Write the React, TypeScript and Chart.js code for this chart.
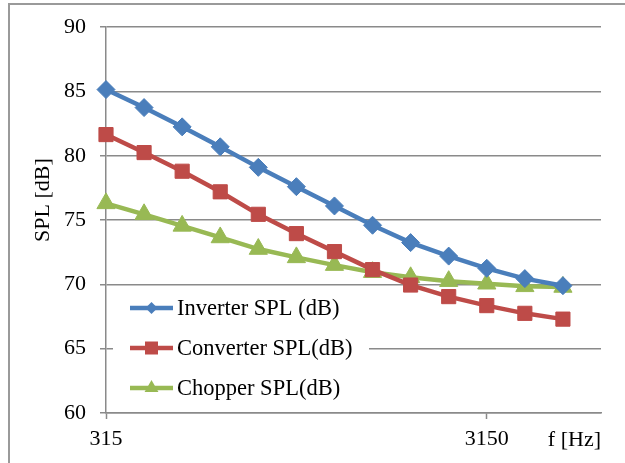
import React, { useEffect, useRef } from 'react';
import { Chart, registerables } from 'chart.js';

Chart.register(...registerables);

const FREQUENCIES = ['315', '400', '500', '630', '800', '1000', '1250', '1600', '2000', '2500', '3150', '4000', '5000'];
const LABELED_TICKS = ['315', '3150'];
const INVERTER = [85.15, 83.75, 82.25, 80.7, 79.1, 77.6, 76.1, 74.6, 73.25, 72.2, 71.25, 70.45, 69.9];
const CONVERTER = [81.65, 80.25, 78.8, 77.2, 75.45, 73.95, 72.55, 71.15, 69.95, 69.05, 68.35, 67.75, 67.3];
const CHOPPER = [76.3, 75.45, 74.55, 73.65, 72.75, 72.1, 71.5, 70.95, 70.55, 70.25, 70.05, 69.85, 69.8];
const SERIES_NAMES = ['Inverter SPL (dB)', 'Converter SPL(dB)', 'Chopper SPL(dB)'];
const Y_TICKS = { min: 60, max: 90, step: 5 };
const Y_TITLE = 'SPL [dB]';
const X_TITLE = 'f [Hz]';

const FONT = '"Liberation Serif", "Times New Roman", serif';
const GRID = '#8a8a8a';
const COLORS = ['#4A7EBB', '#BE4B48', '#98B954'];
const STYLES = ['rectRot', 'rect', 'triangle'];

function drawMarker(ctx: CanvasRenderingContext2D, style: string, x: number, y: number, r: number) {
  ctx.beginPath();
  if (style === 'rectRot') {
    ctx.moveTo(x, y - r);
    ctx.lineTo(x + r, y);
    ctx.lineTo(x, y + r);
    ctx.lineTo(x - r, y);
  } else if (style === 'rect') {
    ctx.rect(x - r, y - r, 2 * r, 2 * r);
  } else {
    ctx.moveTo(x, y - r);
    ctx.lineTo(x + r * 0.866, y + r * 0.5);
    ctx.lineTo(x - r * 0.866, y + r * 0.5);
  }
  ctx.closePath();
  ctx.fill();
}

const framePlugin = {
  id: 'frame',
  beforeDraw(chart: any) {
    const ctx = chart.ctx;
    ctx.save();
    ctx.fillStyle = '#ffffff';
    ctx.fillRect(0, 0, chart.width, chart.height);
    ctx.strokeStyle = '#9a9a9a';
    ctx.lineWidth = 2;
    ctx.beginPath();
    ctx.moveTo(chart.width, 4);
    ctx.lineTo(9, 4);
    ctx.lineTo(9, chart.height);
    ctx.stroke();
    ctx.restore();
  },
};

const annotationsPlugin = {
  id: 'annotations',
  afterDraw(chart: any) {
    const ctx = chart.ctx;
    const area = chart.chartArea;
    ctx.save();
    ctx.fillStyle = '#000';
    ctx.font = `22px ${FONT}`;
    ctx.textAlign = 'center';
    ctx.textBaseline = 'middle';
    ctx.translate(43, area.top + (area.bottom - area.top) * 0.448);
    ctx.rotate(-Math.PI / 2);
    ctx.fillText(Y_TITLE, 0, 0);
    ctx.restore();

    ctx.save();
    const bx = area.left + 7;
    const by = area.bottom - 123;
    ctx.fillStyle = '#ffffff';
    ctx.fillRect(bx, by, 256, 115);
    const rowsY = [area.bottom - 105, area.bottom - 65, area.bottom - 25];
    const markerR = [6, 6.5, 8];
    chart.data.datasets.forEach((ds: any, i: number) => {
      const y = rowsY[i];
      const x0 = area.left + 24;
      const x1 = area.left + 67;
      ctx.strokeStyle = COLORS[i];
      ctx.lineWidth = 4.5;
      ctx.beginPath();
      ctx.moveTo(x0, y);
      ctx.lineTo(x1, y);
      ctx.stroke();
      ctx.fillStyle = COLORS[i];
      drawMarker(ctx, STYLES[i], (x0 + x1) / 2, y, markerR[i]);
      ctx.fillStyle = '#000';
      ctx.font = `22.5px ${FONT}`;
      ctx.textAlign = 'left';
      ctx.textBaseline = 'middle';
      ctx.fillText(ds.label, area.left + 71, y + 1);
    });
    ctx.restore();
  },
};

export default function App() {
  const ref = useRef<HTMLCanvasElement>(null);

  useEffect(() => {
    if (!ref.current) return;
    const labels = [...FREQUENCIES, ''];
    const series = [INVERTER, CONVERTER, CHOPPER];
    const radii = [9, 10, 10.5];
    const chart = new Chart(ref.current, {
      type: 'line',
      data: {
        labels,
        datasets: series.map((data, i) => ({
          label: SERIES_NAMES[i],
          data,
          borderColor: COLORS[i],
          backgroundColor: COLORS[i],
          borderWidth: 4.5,
          pointStyle: STYLES[i] as any,
          pointRadius: radii[i],
          pointBorderWidth: 1,
          pointBorderColor: COLORS[i],
          pointBackgroundColor: COLORS[i],
          tension: 0,
        })),
      },
      options: {
        responsive: false,
        animation: false,
        devicePixelRatio: 1,
        layout: { padding: { left: 0, right: 24, top: 25, bottom: 0 } },
        plugins: {
          legend: { display: false },
          tooltip: { enabled: false },
        },
        scales: {
          x: {
            type: 'category',
            offset: false,
            afterFit: (scale: any) => {
              scale.height = 50;
            },
            grid: {
              drawOnChartArea: false,
              drawTicks: true,
              tickLength: 6,
              tickWidth: 1.5,
              tickColor: (c: any) =>
                LABELED_TICKS.includes(labels[c.index]) ? GRID : 'rgba(0,0,0,0)',
            },
            border: { display: true, color: GRID, width: 1.5 },
            ticks: {
              autoSkip: false,
              maxRotation: 0,
              padding: 7,
              color: '#000',
              font: { family: FONT, size: 22 },
              callback: (_v: any, i: number) => (LABELED_TICKS.includes(labels[i]) ? labels[i] : ''),
            },
            title: {
              display: true,
              text: X_TITLE,
              align: 'end',
              color: '#000',
              font: { family: FONT, size: 22 },
              padding: { top: 0, bottom: 10 },
            },
          },
          y: {
            min: Y_TICKS.min,
            max: Y_TICKS.max,
            afterFit: (scale: any) => {
              scale.width = 106;
            },
            grid: {
              color: GRID,
              lineWidth: 1.5,
              drawTicks: true,
              tickLength: 6,
            },
            border: { display: true, color: GRID, width: 1.5 },
            ticks: {
              stepSize: Y_TICKS.step,
              padding: 14,
              color: '#000',
              font: { family: FONT, size: 22 },
            },
          },
        },
      },
      plugins: [framePlugin, annotationsPlugin],
    });
    return () => chart.destroy();
  }, []);

  return (
    <div style={{ position: 'fixed', left: 0, top: 0, width: 625, height: 463, background: '#fff' }}>
      <canvas ref={ref} width={625} height={463} style={{ display: 'block' }} />
    </div>
  );
}
